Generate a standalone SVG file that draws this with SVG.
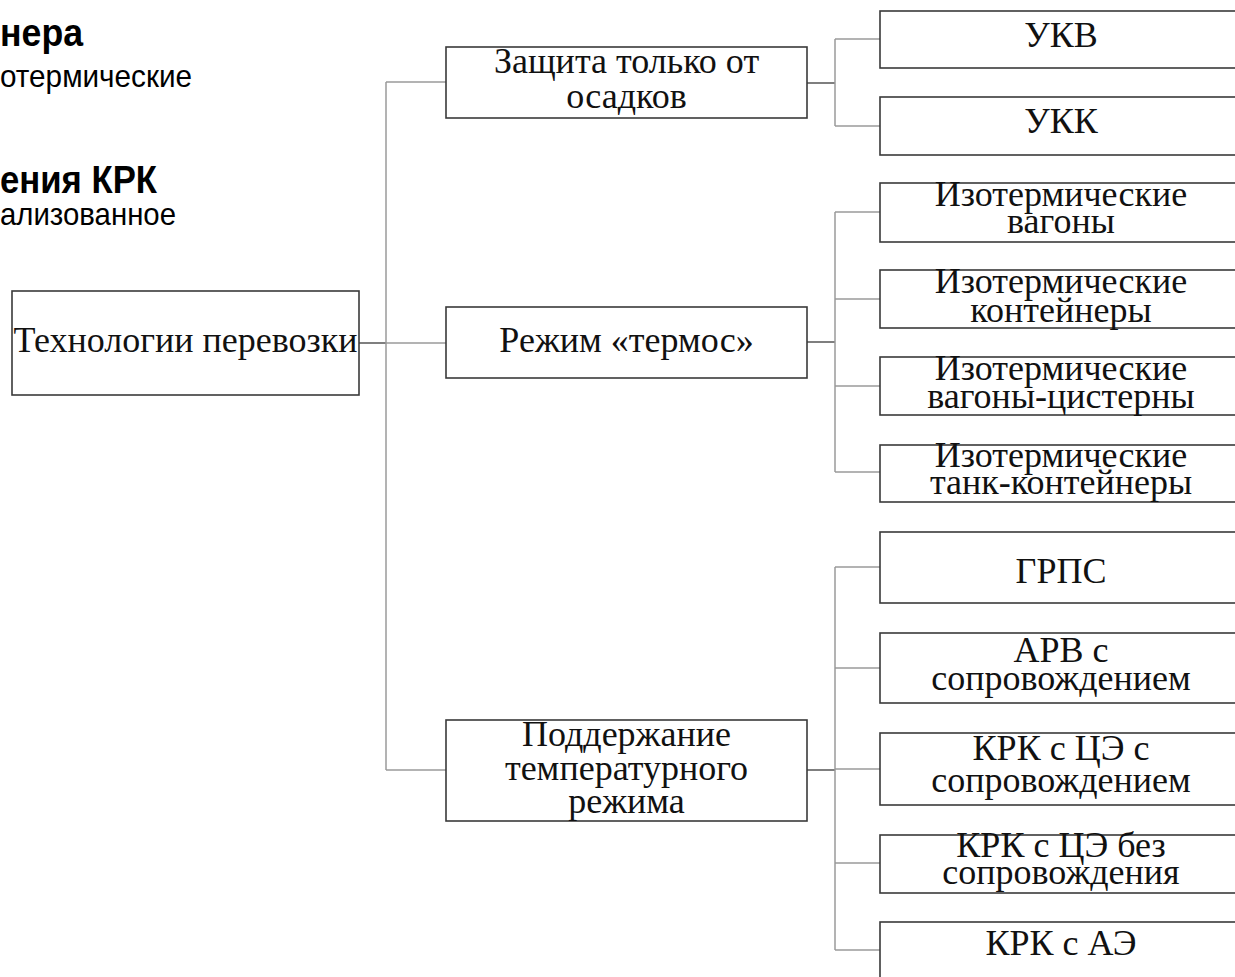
<svg xmlns="http://www.w3.org/2000/svg" width="1235" height="977" viewBox="0 0 1235 977">
<style>
.box{fill:#fff;stroke:#3a3a3a;stroke-width:1.6}
.t{font-family:"Liberation Serif","Times New Roman",serif;font-size:36px;fill:#111;text-anchor:middle}
.c{fill:none;stroke:#9a9a9a;stroke-width:1.5}
.cd{fill:none;stroke:#555;stroke-width:1.5}
.hb{font-family:"Liberation Sans",Arial,sans-serif;font-weight:bold;font-size:38px;fill:#000}
.hr{font-family:"Liberation Sans",Arial,sans-serif;font-size:32px;fill:#000}
</style>
<rect width="1235" height="977" fill="#fff"/>
<g id="bg-text">
<text class="hb" x="0" y="46" textLength="83" lengthAdjust="spacingAndGlyphs">нера</text>
<text class="hr" x="0" y="87" textLength="192" lengthAdjust="spacingAndGlyphs">отермические</text>
<text class="hb" x="0" y="193" textLength="157" lengthAdjust="spacingAndGlyphs">ения КРК</text>
<text class="hr" x="0" y="225" textLength="176" lengthAdjust="spacingAndGlyphs">ализованное</text>
</g>
<g id="connectors">
<path class="cd" d="M359 343H386"/>
<path class="c" d="M386 343H446M386 82V770M386 82H446M386 770H446"/>
<path class="cd" d="M807 83H835M807 342H835M807 770H835"/>
<path class="c" d="M835 39V126M835 39H880M835 126H880"/>
<path class="c" d="M835 212V472M835 212H880M835 299H880M835 386H880M835 472H880"/>
<path class="c" d="M835 567V950M835 567H880M835 668H880M835 769H880M835 863H880M835 950H880"/>
</g>
<g id="root"><rect class="box" x="12" y="291" width="347" height="104"/><text class="t" x="185.5" y="352" font-size="37">Технологии перевозки</text></g>
<g id="n-osadki"><rect class="box" x="446" y="47" width="361" height="71"/><text class="t" x="626.5" y="73">Защита только от</text><text class="t" x="626.5" y="108">осадков</text></g>
<g id="n-termos"><rect class="box" x="446" y="307" width="361" height="71"/><text class="t" x="626.5" y="352">Режим «термос»</text></g>
<g id="n-temp"><rect class="box" x="446" y="720" width="361" height="101"/><text class="t" x="626.5" y="746">Поддержание</text><text class="t" x="626.5" y="780">температурного</text><text class="t" x="626.5" y="813">режима</text></g>
<g id="n-ukv"><rect class="box" x="880" y="11" width="362" height="57"/><text class="t" x="1061" y="47">УКВ</text></g>
<g id="n-ukk"><rect class="box" x="880" y="97" width="362" height="58"/><text class="t" x="1061" y="133">УКК</text></g>
<g id="n-iv"><rect class="box" x="880" y="183" width="362" height="59"/><text class="t" x="1061" y="206">Изотермические</text><text class="t" x="1061" y="233">вагоны</text></g>
<g id="n-ik"><rect class="box" x="880" y="270" width="362" height="58"/><text class="t" x="1061" y="293">Изотермические</text><text class="t" x="1061" y="322">контейнеры</text></g>
<g id="n-ivc"><rect class="box" x="880" y="357" width="362" height="58"/><text class="t" x="1061" y="380">Изотермические</text><text class="t" x="1061" y="408">вагоны-цистерны</text></g>
<g id="n-itk"><rect class="box" x="880" y="445" width="362" height="57"/><text class="t" x="1061" y="467">Изотермические</text><text class="t" x="1061" y="494">танк-контейнеры</text></g>
<g id="n-grps"><rect class="box" x="880" y="532" width="362" height="71"/><text class="t" x="1061" y="583">ГРПС</text></g>
<g id="n-arv"><rect class="box" x="880" y="633" width="362" height="70"/><text class="t" x="1061" y="662">АРВ с</text><text class="t" x="1061" y="690">сопровождением</text></g>
<g id="n-krk1"><rect class="box" x="880" y="733" width="362" height="72"/><text class="t" x="1061" y="760">КРК с ЦЭ с</text><text class="t" x="1061" y="792">сопровождением</text></g>
<g id="n-krk2"><rect class="box" x="880" y="835" width="362" height="58"/><text class="t" x="1061" y="857">КРК с ЦЭ без</text><text class="t" x="1061" y="884">сопровождения</text></g>
<g id="n-krk3"><rect class="box" x="880" y="922" width="362" height="58"/><text class="t" x="1061" y="955">КРК с АЭ</text></g>
</svg>
